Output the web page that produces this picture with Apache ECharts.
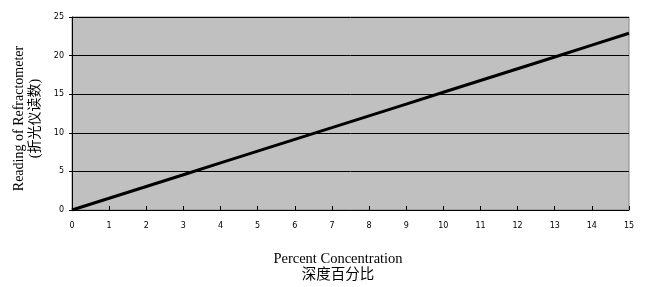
<!DOCTYPE html>
<html><head><meta charset="utf-8">
<script src="https://cdn.jsdelivr.net/npm/echarts@6/dist/echarts.min.js"></script>
<style>html,body{margin:0;padding:0;background:#fff}#c{width:661px;height:287px}</style>
</head><body><div id="c"></div>
<script>
const percent = [0,1,2,3,4,5,6,7,8,9,10,11,12,13,14,15];
const reading = [0,1.52,3.05,4.57,6.1,7.62,9.15,10.67,12.2,13.72,15.25,16.77,18.3,19.82,21.35,22.9];
const yTicks = [0,5,10,15,20,25];
const xName = 'Percent Concentration\n深度百分比';
const yName = 'Reading of Refractometer\n(折光仪读数)';

const chart = echarts.init(document.getElementById('c'));
chart.setOption({
  animation:false,
  grid:{left:72,right:32,top:17,bottom:77,outerBoundsMode:'none',containLabel:false,show:true,backgroundColor:'#c0c0c0',borderColor:'#888',borderWidth:1},
  xAxis:{type:'value',min:0,max:15,interval:1,
    name:xName,nameLocation:'middle',nameGap:41,
    nameTextStyle:{fontFamily:'Liberation Serif, Noto Sans CJK SC',fontSize:14.5,color:'#000',lineHeight:16,padding:[0,25,0,0]},
    axisLine:{lineStyle:{color:'#000',width:1}},
    axisTick:{inside:true,length:4,lineStyle:{color:'#000'}},
    axisLabel:{fontSize:8,color:'#000',fontFamily:'DejaVu Sans',margin:12},
    splitLine:{show:false}},
  yAxis:{type:'value',min:0,max:25,interval:5,
    name:yName,nameLocation:'middle',nameGap:28,nameRotate:90,
    nameTextStyle:{fontFamily:'Liberation Serif, Noto Sans CJK SC',fontSize:14,color:'#000',lineHeight:16,padding:[0,10,0,0]},
    axisLine:{show:true,lineStyle:{color:'#000',width:1}},
    axisTick:{show:true,length:3,lineStyle:{color:'#000'}},
    axisLabel:{fontSize:8,color:'#000',fontFamily:'DejaVu Sans',margin:8,
      formatter:v=>yTicks.includes(v)?String(v):''},
    splitLine:{show:true,lineStyle:{color:'#000',width:1}}},
  series:[{type:'line',data:percent.map((p,i)=>[p,reading[i]]),
    showSymbol:false,lineStyle:{color:'#000',width:3}}]
});
</script></body></html>
